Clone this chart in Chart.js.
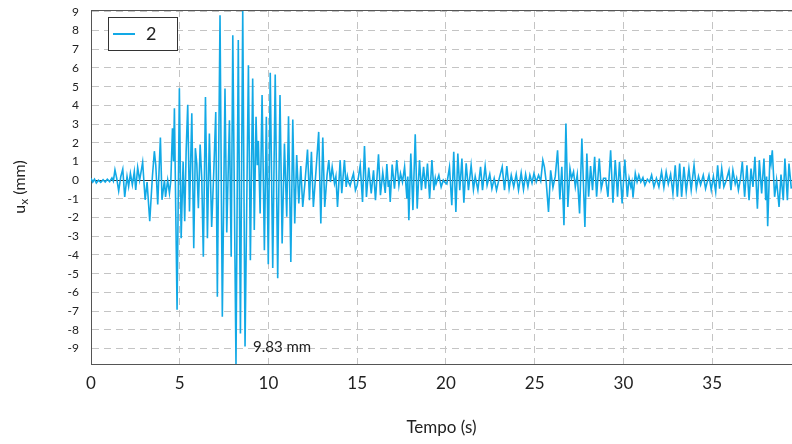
<!DOCTYPE html>
<html><head><meta charset="utf-8">
<script src="https://cdn.jsdelivr.net/npm/chart.js@4.4.0/dist/chart.umd.min.js"></script>
<style>html,body{margin:0;padding:0;background:#fff;}#wrap{width:792px;height:444px;}</style>
</head><body><div id="wrap"><canvas id="c" width="792" height="444"></canvas></div>
<script>
const seriesLabel = '2';
const xTitle = 'Tempo (s)';
const yTitleMain = 'u';
const yTitleSub = 'x';
const yTitleUnit = ' (mm)';
const peakLabel = '9.83 mm';
const xTicks = [0, 5, 10, 15, 20, 25, 30, 35];
const yTicks = [-9, -8, -7, -6, -5, -4, -3, -2, -1, 0, 1, 2, 3, 4, 5, 6, 7, 8, 9];
const xMax = 39.5;
const yMin = -9.83;
const yMax = 9.1;

const times = [
  0.00, 0.10, 0.20, 0.30, 0.42, 0.55, 0.68, 0.80, 0.92, 1.05, 1.18, 1.26, 1.35, 1.45, 1.56, 1.68, 1.79, 1.90,
  2.03, 2.12, 2.22, 2.33, 2.44, 2.52, 2.63, 2.74, 2.83, 2.91, 3.05, 3.16, 3.31, 3.46, 3.57, 3.65, 3.76, 3.91,
  4.00, 4.14, 4.20, 4.32, 4.42, 4.50, 4.59, 4.65, 4.70, 4.85, 4.98, 5.08, 5.19, 5.28, 5.36, 5.45, 5.55, 5.68,
  5.79, 5.88, 5.96, 6.05, 6.15, 6.24, 6.33, 6.45, 6.56, 6.67, 6.80, 6.92, 7.03, 7.12, 7.27, 7.40, 7.55, 7.65,
  7.80, 7.90, 7.99, 8.17, 8.30, 8.42, 8.55, 8.68, 8.87, 8.98, 9.11, 9.20, 9.30, 9.37, 9.43, 9.53, 9.64, 9.77,
  9.88, 9.99, 10.10, 10.24, 10.38, 10.52, 10.65, 10.77, 10.90, 11.03, 11.13, 11.26, 11.37, 11.48, 11.59, 11.71,
  11.82, 11.93, 12.05, 12.20, 12.31, 12.42, 12.53, 12.68, 12.83, 12.95, 13.06, 13.17, 13.30, 13.40, 13.49, 13.59,
  13.72, 13.80, 13.89, 14.04, 14.13, 14.28, 14.38, 14.45, 14.51, 14.60, 14.71, 14.79, 14.90, 15.00, 15.17, 15.30,
  15.41, 15.52, 15.65, 15.79, 15.92, 16.03, 16.20, 16.31, 16.44, 16.58, 16.67, 16.75, 16.80, 16.86, 16.97, 17.10,
  17.23, 17.35, 17.44, 17.55, 17.67, 17.80, 17.85, 17.91, 18.02, 18.14, 18.27, 18.38, 18.51, 18.62, 18.74, 18.85,
  18.96, 19.08, 19.21, 19.32, 19.40, 19.45, 19.60, 19.73, 19.85, 19.92, 20.05, 20.20, 20.33, 20.44, 20.56, 20.67,
  20.78, 20.90, 21.01, 21.14, 21.27, 21.42, 21.55, 21.65, 21.80, 21.95, 22.06, 22.21, 22.32, 22.47, 22.59, 22.72,
  22.85, 22.98, 23.17, 23.30, 23.43, 23.56, 23.68, 23.82, 23.96, 24.09, 24.24, 24.37, 24.49, 24.62, 24.73, 24.85,
  24.96, 25.09, 25.22, 25.34, 25.46, 25.55, 25.65, 25.78, 25.90, 26.03, 26.16, 26.29, 26.42, 26.53, 26.65, 26.76,
  26.87, 26.99, 27.08, 27.19, 27.29, 27.40, 27.53, 27.66, 27.83, 27.94, 28.04, 28.15, 28.26, 28.38, 28.49, 28.64,
  28.75, 28.88, 29.00, 29.13, 29.28, 29.41, 29.54, 29.67, 29.78, 29.93, 30.08, 30.22, 30.32, 30.42, 30.48, 30.54,
  30.67, 30.77, 30.87, 30.98, 31.10, 31.21, 31.35, 31.47, 31.59, 31.72, 31.86, 32.00, 32.15, 32.28, 32.41, 32.53,
  32.66, 32.79, 32.92, 33.04, 33.17, 33.28, 33.41, 33.54, 33.69, 33.82, 33.98, 34.11, 34.23, 34.35, 34.50, 34.63,
  34.82, 34.95, 35.07, 35.20, 35.31, 35.42, 35.54, 35.66, 35.80, 35.95, 36.06, 36.17, 36.30, 36.38, 36.48, 36.60,
  36.70, 36.83, 36.96, 37.08, 37.19, 37.30, 37.41, 37.55, 37.66, 37.79, 37.92, 38.02, 38.07, 38.13, 38.26, 38.32,
  38.39, 38.52, 38.63, 38.77, 38.88, 39.01, 39.10, 39.24, 39.33, 39.46
];
const disp = [
  0.10, -0.10, 0.05, -0.15, 0.00, -0.12, 0.02, -0.10, 0.05, -0.08, 0.12, -0.05, 0.55, 0.10, -0.57, 0.20, 0.59, -0.90,
  0.20, -0.34, 0.37, -0.25, 0.46, -0.52, 0.68, 0.00, 0.50, 0.96, -1.05, -0.10, -2.20, 0.20, 1.55, 0.80, -1.30, 2.28,
  -1.05, 0.00, -0.90, 0.00, -0.70, 0.00, 2.78, 1.00, 3.85, -6.93, 4.92, -3.10, 1.00, -2.20, 1.50, 4.03, -1.68, 3.58,
  -3.64, 1.71, 0.90, -1.50, 1.90, 0.10, -4.10, 4.45, -3.10, 2.50, -2.50, 0.50, 3.65, -6.24, 8.82, -7.30, 4.90, -2.80,
  3.20, -4.10, 7.75, -9.83, 7.50, -8.20, 9.10, -8.90, 6.15, -4.28, 5.44, -2.67, 3.39, 0.80, 2.10, -1.78, 4.55, -3.74,
  3.39, -4.50, 5.75, -4.70, 5.65, -5.25, 4.55, -3.39, 1.96, -1.96, 3.42, -4.37, 3.24, -2.32, 1.34, -1.25,
  0.75, -1.43, -0.20, 1.64, -1.07, 1.52, -1.43, 0.53, 2.58, -2.32, 2.28, -1.43, 0.27, 1.07, -0.10, 0.70,
  -0.18, 0.20, -1.43, 1.07, -0.70, 1.07, -0.36, 0.20, -0.10, -0.30, 0.10, 0.36, -0.54, -0.27, 0.80, -1.16,
  1.82, -0.90, 0.68, -0.71, 0.53, -1.07, 1.39, -0.80, 0.41, -0.68, 0.86, -0.36, 0.00, -1.16, 0.84, -0.45,
  1.07, -0.27, 0.36, -0.10, 0.71, -0.98, 0.20, -2.14, 1.43, -1.60, 2.46, -1.52, 1.07, -0.54, 0.71, -0.45,
  0.89, -0.98, 1.07, -0.54, 0.10, -0.18, 0.27, -0.36, 0.00, -0.10, -0.20, 0.70, -1.34, 1.52, -1.70, 1.43,
  -0.53, 1.16, -1.21, 0.90, -0.53, 0.80, -0.50, 0.20, -0.53, 0.71, -0.53, 0.75, -0.27, 0.32, -0.45, 0.10,
  -0.53, 0.00, 0.71, -0.53, 0.75, -0.45, 0.27, -0.36, 0.32, -0.53, 0.39, -0.50, 0.32, -0.36, 0.27, -0.15,
  0.36, -0.10, 0.27, -0.05, 1.07, 0.70, -0.10, -1.70, 0.53, -0.39, 0.20, 1.60, -1.03, 0.71, -2.41, 3.03,
  -1.43, 0.62, 0.10, 0.45, -0.36, 0.30, -1.78, 2.23, -2.50, 1.43, -0.89, 0.75, -0.53, 1.25, -0.89, 1.16,
  -0.45, 0.10, 0.10, -0.89, 1.60, -1.21, 1.07, -0.89, 0.98, -1.25, 1.10, -0.89, 0.10, -0.36, -0.10, -0.93,
  0.36, -0.10, 0.27, -0.10, 0.14, -0.27, 0.05, -0.10, 0.27, -0.36, 0.10, -0.36, 0.45, -0.39, 0.45, -0.20,
  0.32, -0.71, 0.80, -0.89, 0.89, -0.89, 0.71, -0.62, 0.62, -0.53, 0.80, -0.45, 0.20, -0.25, 0.27, -0.45,
  0.27, -0.53, 0.20, -0.62, 0.80, -0.45, 0.62, -0.36, 0.00, 0.53, -0.53, 0.53, -0.20, 0.10, -0.53, 0.10,
  0.98, -0.89, 0.80, -1.07, 0.62, -0.36, 1.25, -1.52, 1.07, -0.71, 1.16, -1.07, 0.20, -2.46, 1.34, 0.90,
  1.60, -0.89, 0.00, -1.43, 0.30, -1.07, 1.16, -1.07, 0.89, -0.45
];

const FONT = 'Lato, "DejaVu Sans", sans-serif';
const lineColor = '#12a9e6';
const gridColor = '#c4c4c4';
const axisColor = '#555555';

const points = times.map((t, i) => ({ x: t, y: disp[i] }));

const frameAndLegend = {
  id: 'frameAndLegend',
  afterDraw(chart) {
    const ctx = chart.ctx;
    const a = chart.chartArea;
    const ds = chart.data.datasets[0];
    ctx.save();
    // top frame line
    ctx.strokeStyle = axisColor;
    ctx.lineWidth = 1;
    ctx.beginPath();
    ctx.moveTo(a.left, a.top + 0.5);
    ctx.lineTo(a.right, a.top + 0.5);
    ctx.stroke();
    // legend
    const x0 = a.left + 17, y0 = a.top + 7, w = 69, h = 33;
    ctx.fillStyle = '#fff';
    ctx.fillRect(x0, y0, w, h);
    ctx.strokeStyle = '#333';
    ctx.strokeRect(x0 + 0.5, y0 + 0.5, w, h);
    ctx.strokeStyle = ds.borderColor;
    ctx.lineWidth = 2;
    ctx.beginPath();
    ctx.moveTo(x0 + 5, y0 + h / 2 + 0.5);
    ctx.lineTo(x0 + 27, y0 + h / 2 + 0.5);
    ctx.stroke();
    ctx.fillStyle = '#222';
    ctx.font = '18px ' + FONT;
    ctx.textBaseline = 'middle';
    ctx.textAlign = 'left';
    ctx.fillText(ds.label, x0 + 38, y0 + h / 2 + 1);
    // peak annotation at the minimum
    let mi = 0;
    disp.forEach((v, i) => { if (v < disp[mi]) mi = i; });
    const xs = chart.scales.x, ys = chart.scales.y;
    const px = xs.getPixelForValue(times[mi]) + 17;
    const py = ys.getPixelForValue(disp[mi]) - 17;
    ctx.font = '15px ' + FONT;
    ctx.fillText(peakLabel, px, py);
    // y axis title with subscript
    const cy = (a.top + a.bottom) / 2;
    ctx.translate(20, cy);
    ctx.rotate(-Math.PI / 2);
    ctx.textBaseline = 'middle';
    const mainFont = '16px ' + FONT, subFont = '12px ' + FONT;
    ctx.font = mainFont; const w1 = ctx.measureText(yTitleMain).width; const w3 = ctx.measureText(yTitleUnit).width;
    ctx.font = subFont; const w2 = ctx.measureText(yTitleSub).width;
    let sx = -(w1 + w2 + w3) / 2;
    ctx.font = mainFont; ctx.fillText(yTitleMain, sx, 0); sx += w1;
    ctx.font = subFont; ctx.fillText(yTitleSub, sx, 4); sx += w2;
    ctx.font = mainFont; ctx.fillText(yTitleUnit, sx, 0);
    ctx.restore();
  }
};

new Chart(document.getElementById('c'), {
  type: 'line',
  data: {
    datasets: [{
      label: seriesLabel,
      data: points,
      borderColor: lineColor,
      backgroundColor: lineColor,
      borderWidth: 1.6,
      pointRadius: 0,
      tension: 0,
      fill: false
    }]
  },
  options: {
    responsive: false,
    animation: false,
    devicePixelRatio: 1,
    layout: { padding: { top: 10, right: 0, left: 0, bottom: 0 } },
    plugins: { legend: { display: false }, tooltip: { enabled: false } },
    scales: {
      x: {
        type: 'linear',
        min: 0,
        max: xMax,
        afterBuildTicks: (s) => { s.ticks = xTicks.map(v => ({ value: v })); },
        afterFit: (s) => { s.height = 80; s.paddingLeft = 0; s.paddingRight = 0; },
        ticks: { color: '#222', font: { family: FONT, size: 17 }, padding: 9, maxRotation: 0 },
        grid: { color: gridColor, lineWidth: 1, drawTicks: false },
        border: { color: axisColor, width: 1, dash: [7, 5] },
        title: { display: true, text: xTitle, color: '#222', font: { family: FONT, size: 17 }, padding: { top: 8, bottom: 6 } }
      },
      y: {
        type: 'linear',
        min: yMin,
        max: yMax,
        afterBuildTicks: (s) => { s.ticks = yTicks.map(v => ({ value: v })); },
        afterFit: (s) => { s.width = 91; s.paddingTop = 0; s.paddingBottom = 0; },
        ticks: { color: '#222', font: { family: FONT, size: 12 }, padding: 12, callback: (v) => String(v) },
        grid: {
          color: (c) => (c.tick && c.tick.value === 0) ? '#333333' : gridColor,
          lineWidth: 1,
          drawTicks: false
        },
        border: { color: axisColor, width: 1, dash: (c) => (c.tick && c.tick.value === 0) ? [] : [7, 5] },
        title: { display: false }
      }
    }
  },
  plugins: [frameAndLegend]
});
</script>
</body></html>
